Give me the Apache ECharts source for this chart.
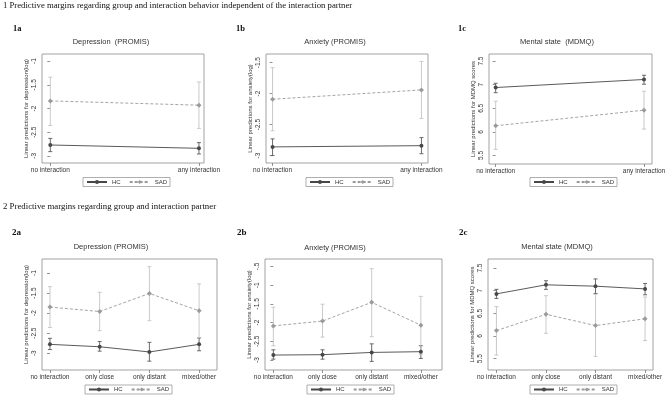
<!DOCTYPE html>
<html><head><meta charset="utf-8">
<script src="https://cdn.jsdelivr.net/npm/echarts@6/dist/echarts.min.js"></script>
<style>html,body{margin:0;padding:0;background:#fff}#c{width:669px;height:402px}</style>
</head><body><div id="c"></div>
<script>
// ---------- categories ----------
const cats1 = ['no interaction', 'any interaction'];
const cats2 = ['no interaction', 'only close', 'only distant', 'mixed/other'];

// ---------- tick labels ----------
const ytDep1 = [-3, -2.5, -2, -1.5, -1];
const ytAnx1 = [-3, -2.5, -2, -1.5];
const ytMdmq = [5.5, 6, 6.5, 7, 7.5];
const ytDep2 = [-3, -2.5, -2, -1.5, -1];
const ytAnx2 = [-3, -2.5, -2, -1.5, -1, -0.5];

// ---------- 1a Depression ----------
const d1a_hc = [-2.77, -2.84], d1a_hc_lo = [-2.91, -2.96], d1a_hc_hi = [-2.63, -2.72];
const d1a_sad = [-1.84, -1.93], d1a_sad_lo = [-2.36, -2.42], d1a_sad_hi = [-1.34, -1.44];
// ---------- 1b Anxiety ----------
const d1b_hc = [-2.86, -2.84], d1b_hc_lo = [-3.0, -2.97], d1b_hc_hi = [-2.73, -2.71];
const d1b_sad = [-2.09, -1.94], d1b_sad_lo = [-2.60, -2.40], d1b_sad_hi = [-1.58, -1.48];
// ---------- 1c Mental state ----------
const d1c_hc = [6.94, 7.11], d1c_hc_lo = [6.83, 7.01], d1c_hc_hi = [7.03, 7.20];
const d1c_sad = [6.13, 6.46], d1c_sad_lo = [5.63, 6.06], d1c_sad_hi = [6.65, 6.86];
// ---------- 2a Depression ----------
const d2a_hc = [-2.78, -2.84, -2.97, -2.78], d2a_hc_lo = [-2.91, -2.95, -3.20, -2.94], d2a_hc_hi = [-2.63, -2.71, -2.73, -2.62];
const d2a_sad = [-1.85, -1.96, -1.51, -1.94], d2a_sad_lo = [-2.36, -2.44, -2.19, -2.61], d2a_sad_hi = [-1.34, -1.48, -0.84, -1.27];
// ---------- 2b Anxiety ----------
const d2b_hc = [-2.87, -2.86, -2.80, -2.78], d2b_hc_lo = [-2.98, -2.98, -3.04, -2.96], d2b_hc_hi = [-2.73, -2.73, -2.57, -2.62];
const d2b_sad = [-2.09, -1.96, -1.46, -2.07], d2b_sad_lo = [-2.62, -2.39, -2.38, -2.85], d2b_sad_hi = [-1.59, -1.51, -0.56, -1.30];
// ---------- 2c Mental state ----------
const d2c_hc = [6.93, 7.13, 7.10, 7.04], d2c_hc_lo = [6.83, 7.03, 6.94, 6.91], d2c_hc_hi = [7.03, 7.22, 7.26, 7.16];
const d2c_sad = [6.12, 6.48, 6.23, 6.38], d2c_sad_lo = [5.58, 6.06, 5.55, 5.90], d2c_sad_hi = [6.65, 6.89, 6.92, 6.86];

const yTitleDep = 'Linear predictions for depression(log)';
const yTitleAnx = 'Linear predictions for anxiety(log)';
const yTitleMd = 'Linear predictions for MDMQ scores';

const panels = [
  {g:{left:42, top:54, width:162, height:109}, xr:[-0.056, 1.034], yr:[-3.15, -0.85], cats:cats1, yt:ytDep1, yname:yTitleDep,
   title:'Depression  (PROMIS)', tx:111, ty:42, lx:83, ly:177.5,
   hc:d1a_hc, hlo:d1a_hc_lo, hhi:d1a_hc_hi, sad:d1a_sad, slo:d1a_sad_lo, shi:d1a_sad_hi},
  {g:{left:266, top:54, width:162, height:109}, xr:[-0.044, 1.044], yr:[-3.12, -1.36], cats:cats1, yt:ytAnx1, yname:yTitleAnx,
   title:'Anxiety (PROMIS)', tx:335, ty:42, lx:306, ly:177.5,
   hc:d1b_hc, hlo:d1b_hc_lo, hhi:d1b_hc_hi, sad:d1b_sad, slo:d1b_sad_lo, shi:d1b_sad_hi},
  {g:{left:489, top:54, width:163, height:110}, xr:[-0.045, 1.054], yr:[5.32, 7.65], cats:cats1, yt:ytMdmq, yname:yTitleMd,
   title:'Mental state  (MDMQ)', tx:557, ty:42, lx:530, ly:177.5,
   hc:d1c_hc, hlo:d1c_hc_lo, hhi:d1c_hc_hi, sad:d1c_sad, slo:d1c_sad_lo, shi:d1c_sad_hi},
  {g:{left:42, top:259, width:175, height:111}, xr:[-0.16, 3.36], yr:[-3.42, -0.65], cats:cats2, yt:ytDep2, yname:yTitleDep,
   title:'Depression (PROMIS)', tx:111, ty:247, lx:85, ly:385},
  {g:{left:265, top:259, width:177, height:111}, xr:[-0.17, 3.43], yr:[-3.27, -0.30], cats:cats2, yt:ytAnx2, yname:yTitleAnx,
   title:'Anxiety (PROMIS)', tx:335, ty:247.5, lx:307, ly:385},
  {g:{left:488, top:259, width:165, height:111}, xr:[-0.17, 3.16], yr:[5.25, 7.70], cats:cats2, yt:ytMdmq, yname:yTitleMd,
   title:'Mental state (MDMQ)', tx:557, ty:247, lx:530, ly:385}
];
Object.assign(panels[3], {hc:d2a_hc, hlo:d2a_hc_lo, hhi:d2a_hc_hi, sad:d2a_sad, slo:d2a_sad_lo, shi:d2a_sad_hi});
Object.assign(panels[4], {hc:d2b_hc, hlo:d2b_hc_lo, hhi:d2b_hc_hi, sad:d2b_sad, slo:d2b_sad_lo, shi:d2b_sad_hi});
Object.assign(panels[5], {hc:d2c_hc, hlo:d2c_hc_lo, hhi:d2c_hc_hi, sad:d2c_sad, slo:d2c_sad_lo, shi:d2c_sad_hi});

const FONT = 'Liberation Sans, Arial, sans-serif';
const SERIF = 'Liberation Serif, Times New Roman, serif';
const HC_COL = '#474747', SAD_COL = '#9a9a9a', HC_CI = '#5a5a5a', SAD_CI = '#c4c4c4';

function errRender(color) {
  return function (params, api) {
    const x = api.value(0);
    const p1 = api.coord([x, api.value(1)]);
    const p2 = api.coord([x, api.value(2)]);
    const cw = 2;
    const st = {stroke: color, lineWidth: 0.9};
    return {type: 'group', children: [
      {type: 'line', shape: {x1: p1[0], y1: p1[1], x2: p2[0], y2: p2[1]}, style: st},
      {type: 'line', shape: {x1: p1[0] - cw, y1: p1[1], x2: p1[0] + cw, y2: p1[1]}, style: st},
      {type: 'line', shape: {x1: p2[0] - cw, y1: p2[1], x2: p2[0] + cw, y2: p2[1]}, style: st}
    ]};
  };
}

const grid = [], xAxis = [], yAxis = [], series = [], legend = [], graphic = [];
panels.forEach((p, i) => {
  grid.push(Object.assign({show: true, borderColor: '#8c8c8c', borderWidth: 0.8, backgroundColor: '#fff'}, p.g));
  const xv = p.cats.map((c, k) => k);
  xAxis.push({type: 'value', gridIndex: i, min: p.xr[0], max: p.xr[1],
    axisLine: {show: false}, splitLine: {show: false},
    axisTick: {show: true, length: 3, customValues: xv, lineStyle: {color: '#777', width: 0.8}},
    axisLabel: {show: true, customValues: xv, margin: 4, fontSize: 6.5, color: '#333', fontFamily: FONT,
      formatter: v => p.cats[Math.round(v)]}});
  yAxis.push({type: 'value', gridIndex: i, min: p.yr[0], max: p.yr[1],
    axisLine: {show: false}, splitLine: {show: false},
    axisTick: {show: true, length: 3, customValues: p.yt, lineStyle: {color: '#777', width: 0.8}},
    axisLabel: {show: true, customValues: p.yt, rotate: 90, margin: 4, fontSize: 6.5, color: '#333', fontFamily: FONT,
      formatter: v => String(v).replace(/^(-?)0\./, '$1.')},
    name: p.yname, nameLocation: 'middle', nameRotate: 90, nameGap: 13,
    nameTextStyle: {fontSize: 6, color: '#333', fontFamily: FONT}});
  const mk = (arr) => arr.map((v, k) => [k, v]);
  const ci = (lo, hi) => lo.map((v, k) => [k, v, hi[k]]);
  series.push({type: 'custom', name: 'HC CI', xAxisIndex: i, yAxisIndex: i, z: 1, silent: true,
    renderItem: errRender(HC_CI), data: ci(p.hlo, p.hhi)});
  series.push({type: 'custom', name: 'SAD CI', xAxisIndex: i, yAxisIndex: i, z: 1, silent: true,
    renderItem: errRender(SAD_CI), data: ci(p.slo, p.shi)});
  series.push({type: 'line', name: 'SAD', xAxisIndex: i, yAxisIndex: i, z: 3, silent: true,
    data: mk(p.sad), symbol: 'diamond', symbolSize: 5, showSymbol: true,
    lineStyle: {color: SAD_COL, width: 0.9, type: [3, 2]}, itemStyle: {color: SAD_COL}});
  series.push({type: 'line', name: 'HC', xAxisIndex: i, yAxisIndex: i, z: 4, silent: true,
    data: mk(p.hc), symbol: 'circle', symbolSize: 4, showSymbol: true,
    lineStyle: {color: HC_COL, width: 0.9}, itemStyle: {color: HC_COL}});
  legend.push({data: ['HC', 'SAD'], left: p.lx, top: p.ly, orient: 'horizontal',
    itemWidth: 20, itemHeight: 5, itemGap: 8, padding: [1.5, 3, 1.5, 3],
    borderColor: '#8c8c8c', borderWidth: 0.7, selectedMode: false,
    textStyle: {fontSize: 6, color: '#333', fontFamily: FONT}});
  graphic.push({type: 'text', x: p.tx, y: p.ty, silent: true,
    style: {text: p.title, font: '7.5px ' + FONT, fill: '#333', textAlign: 'center', textVerticalAlign: 'middle'}});
});

const heads = [
  {t: '1 Predictive margins regarding group and interaction behavior independent of the interaction partner', x: 3, y: 6, s: 8.7, w: 'normal'},
  {t: '1a', x: 13, y: 29, s: 8.5, w: 'bold'},
  {t: '1b', x: 236, y: 29, s: 8.5, w: 'bold'},
  {t: '1c', x: 458, y: 29, s: 8.5, w: 'bold'},
  {t: '2 Predictive margins regarding group and interaction partner', x: 3, y: 207, s: 8.8, w: 'normal'},
  {t: '2a', x: 12, y: 233, s: 9, w: 'bold'},
  {t: '2b', x: 237, y: 233, s: 9, w: 'bold'},
  {t: '2c', x: 459, y: 233, s: 9, w: 'bold'}
];
heads.forEach(h => graphic.push({type: 'text', x: h.x, y: h.y, silent: true,
  style: {text: h.t, font: h.w + ' ' + h.s + 'px ' + SERIF, fill: '#111', textAlign: 'left', textVerticalAlign: 'middle'}}));

const chart = echarts.init(document.getElementById('c'), null, {renderer: 'canvas'});
chart.setOption({animation: false, backgroundColor: '#fff', grid, xAxis, yAxis, series, legend, graphic});
</script>
</body></html>
